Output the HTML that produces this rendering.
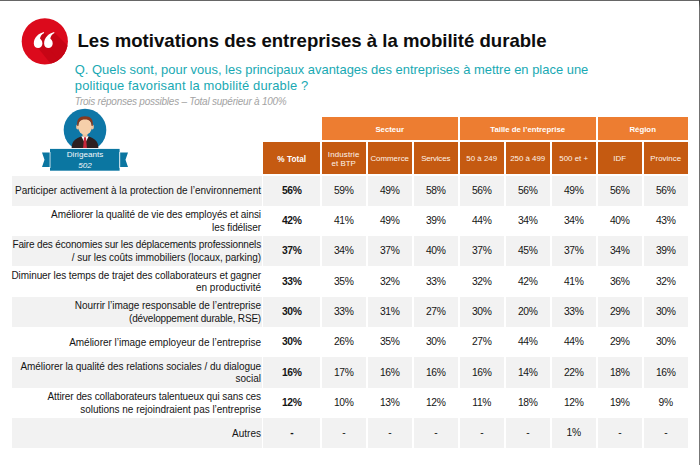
<!DOCTYPE html>
<html><head><meta charset="utf-8">
<style>
*{margin:0;padding:0;box-sizing:border-box}
html,body{width:700px;height:465px;overflow:hidden;background:#fff}
body{position:relative;font-family:"Liberation Sans",sans-serif;color:#151515}
.abs{position:absolute}
.h1,.h2,.lbl,.c{position:absolute;display:flex;align-items:center}
.h1{justify-content:center;color:#fff;font-weight:bold;font-size:7.8px;padding-top:2.1px}
.h2{justify-content:center;text-align:center;color:#fff3ea;font-size:7.9px;line-height:8.8px;padding-top:3.6px}
.h2.b{color:#fff;font-weight:bold;font-size:8.25px;padding-top:5.4px}
.lbl{justify-content:flex-end;text-align:right;font-size:10px;line-height:12.6px;padding-right:1.2px;padding-top:1.6px;white-space:nowrap}
.c{justify-content:center;font-size:10.3px;padding-bottom:0.6px;letter-spacing:-0.35px}
.c.b{font-weight:bold;font-size:10.3px}
.title{position:absolute;left:77.5px;top:30px;font-size:18.6px;font-weight:bold;color:#0d0d0d;white-space:nowrap;line-height:22px}
.q{position:absolute;left:74.8px;top:62px;font-size:12.95px;color:#19a9b3;line-height:16px;white-space:nowrap}
.sub{position:absolute;left:74.8px;top:96.4px;font-size:10px;letter-spacing:-0.24px;font-style:italic;color:#a3a3a3;white-space:nowrap;line-height:11.6px}
.rib{color:#f4f8fb;font-size:8.1px;line-height:10.6px;text-align:center}
.rib i{font-style:italic}
.topbar{position:absolute;left:0;top:0;width:700px;height:1.1px;background:#666}
.rightbar{position:absolute;left:698.8px;top:0;width:1.2px;height:465px;background:linear-gradient(#333,#6f6f6f 8px,#777)}
</style></head>
<body>
<div class="topbar"></div>
<div class="rightbar"></div>
<svg class="abs" style="left:21px;top:18px" width="48" height="48" viewBox="0 0 48 48">
<defs><clipPath id="cc"><circle cx="23.8" cy="23.3" r="23.1"/></clipPath></defs>
<circle cx="23.8" cy="23.3" r="23.1" fill="#dc0a1c"/>
<g clip-path="url(#cc)" fill="#c70515">
<polygon points="13,25 22.5,14 60,52 46,66"/>
<polygon points="23.4,25 32.9,14 70,51 56,65"/>
</g>
<g fill="#fff">
<path d="M22.80,14.00 C17.80,15.40 12.80,19.20 12.80,25.40 C12.80,28.50 14.90,29.90 17.10,29.90 C19.60,29.90 21.40,28.00 21.40,25.40 C21.40,22.60 19.80,21.40 19.00,20.60 C19.30,18.20 20.80,16.00 23.20,14.90 Z"/>
<path d="M33.10,14.00 C28.10,15.40 23.10,19.20 23.10,25.40 C23.10,28.50 25.20,29.90 27.40,29.90 C29.90,29.90 31.70,28.00 31.70,25.40 C31.70,22.60 30.10,21.40 29.30,20.60 C29.60,18.20 31.10,16.00 33.50,14.90 Z"/>
</g>
</svg>
<div class="title">Les motivations des entreprises à la mobilité durable</div>
<div class="q">Q. Quels sont, pour vous, les principaux avantages des entreprises à mettre en place une<br><span style="letter-spacing:0.15px">politique favorisant la mobilité durable ?</span></div>
<div class="sub">Trois réponses possibles – Total supérieur à 100%</div>
<svg class="abs" style="left:40px;top:106px" width="90" height="68" viewBox="0 0 90 68">
<defs><clipPath id="ac"><rect x="0" y="0" width="90" height="41.9"/></clipPath></defs>
<g clip-path="url(#ac)">
<circle cx="45" cy="24" r="21.3" fill="#0e77a7"/>
<path d="M31.6,42 L32.2,38 C33,34.6 36,32.2 41,30.4 L45,30 L49,30.4 C54,32.2 57,34.6 57.8,38 L58.4,42 Z" fill="#2e1f1f"/>
<path d="M41.3,30.2 L45,37.5 L48.7,30.2 Z" fill="#ffffff"/>
<path d="M44,31.3 L46,31.3 L46.9,42 L43.1,42 Z" fill="#c9283b"/>
<rect x="42.6" y="25" width="4.8" height="5.6" fill="#efc19a"/>
<ellipse cx="37.6" cy="21" rx="1.5" ry="2.4" fill="#f0c49e"/>
<ellipse cx="52.4" cy="21" rx="1.5" ry="2.4" fill="#f0c49e"/>
<ellipse cx="45" cy="20.6" rx="6.9" ry="8.2" fill="#f6cfaa"/>
<path d="M37.3,20 C36.4,13 39.6,10.3 45,10.3 C50.4,10.3 53.6,13 52.7,20 L51.6,20 C51.6,16 49.8,13.6 45,13.6 C40.2,13.6 38.4,16 38.4,20 Z" fill="#86391f"/>
</g>
<path d="M2,46.6 L10,46.6 L10,60.9 L2,60.9 L4.5,53.75 Z" fill="#0b76a1"/>
<path d="M88,46.6 L80,46.6 L80,60.9 L88,60.9 L85.5,53.75 Z" fill="#0b76a1"/>
<rect x="10" y="42.9" width="69.6" height="21.8" fill="#0b76a1"/>
<rect x="9.6" y="46" width="0.9" height="16" fill="#fff" opacity="0.8"/>
<rect x="79.3" y="46" width="0.9" height="16" fill="#fff" opacity="0.8"/>
</svg>
<div class="abs rib" style="left:50px;top:150px;width:70px;height:22px;">Dirigeants<br><i>502</i></div>
<div class="h1" style="left:321.70px;top:117.00px;width:136.00px;height:23.40px;background:#ed7d31;">Secteur</div>
<div class="h1" style="left:459.70px;top:117.00px;width:136.00px;height:23.40px;background:#ed7d31;">Taille de l’entreprise</div>
<div class="h1" style="left:597.70px;top:117.00px;width:90.00px;height:23.40px;background:#ed7d31;">Région</div>
<div class="h2 b" style="left:263.00px;top:142.40px;width:57.40px;height:31.40px;background:#c55a11;">% Total</div>
<div class="h2" style="left:321.70px;top:142.40px;width:44.00px;height:31.40px;background:#c55a11;"><span><span style="letter-spacing:0.17px">Industrie</span><br>et BTP</span></div>
<div class="h2" style="left:367.70px;top:142.40px;width:44.00px;height:31.40px;background:#c55a11;"><span>Commerce</span></div>
<div class="h2" style="left:413.70px;top:142.40px;width:44.00px;height:31.40px;background:#c55a11;"><span><span style="letter-spacing:-0.16px">Services</span></span></div>
<div class="h2" style="left:459.70px;top:142.40px;width:44.00px;height:31.40px;background:#c55a11;"><span>50 à 249</span></div>
<div class="h2" style="left:505.70px;top:142.40px;width:44.00px;height:31.40px;background:#c55a11;"><span>250 à 499</span></div>
<div class="h2" style="left:551.70px;top:142.40px;width:44.00px;height:31.40px;background:#c55a11;"><span>500 et +</span></div>
<div class="h2" style="left:597.70px;top:142.40px;width:44.00px;height:31.40px;background:#c55a11;"><span>IDF</span></div>
<div class="h2" style="left:643.70px;top:142.40px;width:44.00px;height:31.40px;background:#c55a11;"><span>Province</span></div>
<div class="lbl" style="left:11.50px;top:175.50px;width:250.70px;height:30.30px;background:#f2f2f2;"><div><span style="letter-spacing:-0.004px">Participer activement à la protection de l’environnement</span></div></div>
<div class="c b" style="left:263.00px;top:175.50px;width:57.40px;height:30.30px;background:#f2f2f2;">56%</div>
<div class="c" style="left:321.70px;top:175.50px;width:44.00px;height:30.30px;background:#f2f2f2;">59%</div>
<div class="c" style="left:367.70px;top:175.50px;width:44.00px;height:30.30px;background:#f2f2f2;">49%</div>
<div class="c" style="left:413.70px;top:175.50px;width:44.00px;height:30.30px;background:#f2f2f2;">58%</div>
<div class="c" style="left:459.70px;top:175.50px;width:44.00px;height:30.30px;background:#f2f2f2;">56%</div>
<div class="c" style="left:505.70px;top:175.50px;width:44.00px;height:30.30px;background:#f2f2f2;">56%</div>
<div class="c" style="left:551.70px;top:175.50px;width:44.00px;height:30.30px;background:#f2f2f2;">49%</div>
<div class="c" style="left:597.70px;top:175.50px;width:44.00px;height:30.30px;background:#f2f2f2;">56%</div>
<div class="c" style="left:643.70px;top:175.50px;width:44.00px;height:30.30px;background:#f2f2f2;">56%</div>
<div class="lbl" style="left:11.50px;top:205.80px;width:250.70px;height:30.30px;"><div><span style="letter-spacing:-0.083px">Améliorer la qualité de vie des employés et ainsi</span><br><span style="letter-spacing:-0.085px">les fidéliser</span></div></div>
<div class="c b" style="left:263.00px;top:205.80px;width:57.40px;height:30.30px;">42%</div>
<div class="c" style="left:321.70px;top:205.80px;width:44.00px;height:30.30px;">41%</div>
<div class="c" style="left:367.70px;top:205.80px;width:44.00px;height:30.30px;">49%</div>
<div class="c" style="left:413.70px;top:205.80px;width:44.00px;height:30.30px;">39%</div>
<div class="c" style="left:459.70px;top:205.80px;width:44.00px;height:30.30px;">44%</div>
<div class="c" style="left:505.70px;top:205.80px;width:44.00px;height:30.30px;">34%</div>
<div class="c" style="left:551.70px;top:205.80px;width:44.00px;height:30.30px;">34%</div>
<div class="c" style="left:597.70px;top:205.80px;width:44.00px;height:30.30px;">40%</div>
<div class="c" style="left:643.70px;top:205.80px;width:44.00px;height:30.30px;">43%</div>
<div class="lbl" style="left:11.50px;top:236.10px;width:250.70px;height:30.30px;background:#f2f2f2;"><div><span style="letter-spacing:-0.160px">Faire des économies sur les déplacements professionnels</span><br><span style="letter-spacing:-0.057px">/ sur les coûts immobiliers (locaux, parking)</span></div></div>
<div class="c b" style="left:263.00px;top:236.10px;width:57.40px;height:30.30px;background:#f2f2f2;">37%</div>
<div class="c" style="left:321.70px;top:236.10px;width:44.00px;height:30.30px;background:#f2f2f2;">34%</div>
<div class="c" style="left:367.70px;top:236.10px;width:44.00px;height:30.30px;background:#f2f2f2;">37%</div>
<div class="c" style="left:413.70px;top:236.10px;width:44.00px;height:30.30px;background:#f2f2f2;">40%</div>
<div class="c" style="left:459.70px;top:236.10px;width:44.00px;height:30.30px;background:#f2f2f2;">37%</div>
<div class="c" style="left:505.70px;top:236.10px;width:44.00px;height:30.30px;background:#f2f2f2;">45%</div>
<div class="c" style="left:551.70px;top:236.10px;width:44.00px;height:30.30px;background:#f2f2f2;">37%</div>
<div class="c" style="left:597.70px;top:236.10px;width:44.00px;height:30.30px;background:#f2f2f2;">34%</div>
<div class="c" style="left:643.70px;top:236.10px;width:44.00px;height:30.30px;background:#f2f2f2;">39%</div>
<div class="lbl" style="left:11.50px;top:266.40px;width:250.70px;height:30.30px;"><div><span style="letter-spacing:-0.079px">Diminuer les temps de trajet des collaborateurs et gagner</span><br><span style="letter-spacing:0.000px">en productivité</span></div></div>
<div class="c b" style="left:263.00px;top:266.40px;width:57.40px;height:30.30px;">33%</div>
<div class="c" style="left:321.70px;top:266.40px;width:44.00px;height:30.30px;">35%</div>
<div class="c" style="left:367.70px;top:266.40px;width:44.00px;height:30.30px;">32%</div>
<div class="c" style="left:413.70px;top:266.40px;width:44.00px;height:30.30px;">33%</div>
<div class="c" style="left:459.70px;top:266.40px;width:44.00px;height:30.30px;">32%</div>
<div class="c" style="left:505.70px;top:266.40px;width:44.00px;height:30.30px;">42%</div>
<div class="c" style="left:551.70px;top:266.40px;width:44.00px;height:30.30px;">41%</div>
<div class="c" style="left:597.70px;top:266.40px;width:44.00px;height:30.30px;">36%</div>
<div class="c" style="left:643.70px;top:266.40px;width:44.00px;height:30.30px;">32%</div>
<div class="lbl" style="left:11.50px;top:296.70px;width:250.70px;height:30.30px;background:#f2f2f2;"><div><span style="letter-spacing:-0.040px">Nourrir l’image responsable de l’entreprise</span><br><span style="letter-spacing:-0.193px">(développement durable, RSE)</span></div></div>
<div class="c b" style="left:263.00px;top:296.70px;width:57.40px;height:30.30px;background:#f2f2f2;">30%</div>
<div class="c" style="left:321.70px;top:296.70px;width:44.00px;height:30.30px;background:#f2f2f2;">33%</div>
<div class="c" style="left:367.70px;top:296.70px;width:44.00px;height:30.30px;background:#f2f2f2;">31%</div>
<div class="c" style="left:413.70px;top:296.70px;width:44.00px;height:30.30px;background:#f2f2f2;">27%</div>
<div class="c" style="left:459.70px;top:296.70px;width:44.00px;height:30.30px;background:#f2f2f2;">30%</div>
<div class="c" style="left:505.70px;top:296.70px;width:44.00px;height:30.30px;background:#f2f2f2;">20%</div>
<div class="c" style="left:551.70px;top:296.70px;width:44.00px;height:30.30px;background:#f2f2f2;">33%</div>
<div class="c" style="left:597.70px;top:296.70px;width:44.00px;height:30.30px;background:#f2f2f2;">29%</div>
<div class="c" style="left:643.70px;top:296.70px;width:44.00px;height:30.30px;background:#f2f2f2;">30%</div>
<div class="lbl" style="left:11.50px;top:327.00px;width:250.70px;height:30.30px;"><div><span style="letter-spacing:-0.010px">Améliorer l’image employeur de l’entreprise</span></div></div>
<div class="c b" style="left:263.00px;top:327.00px;width:57.40px;height:30.30px;">30%</div>
<div class="c" style="left:321.70px;top:327.00px;width:44.00px;height:30.30px;">26%</div>
<div class="c" style="left:367.70px;top:327.00px;width:44.00px;height:30.30px;">35%</div>
<div class="c" style="left:413.70px;top:327.00px;width:44.00px;height:30.30px;">30%</div>
<div class="c" style="left:459.70px;top:327.00px;width:44.00px;height:30.30px;">27%</div>
<div class="c" style="left:505.70px;top:327.00px;width:44.00px;height:30.30px;">44%</div>
<div class="c" style="left:551.70px;top:327.00px;width:44.00px;height:30.30px;">44%</div>
<div class="c" style="left:597.70px;top:327.00px;width:44.00px;height:30.30px;">29%</div>
<div class="c" style="left:643.70px;top:327.00px;width:44.00px;height:30.30px;">30%</div>
<div class="lbl" style="left:11.50px;top:357.30px;width:250.70px;height:30.30px;background:#f2f2f2;"><div><span style="letter-spacing:-0.061px">Améliorer la qualité des relations sociales / du dialogue</span><br><span style="letter-spacing:0.000px">social</span></div></div>
<div class="c b" style="left:263.00px;top:357.30px;width:57.40px;height:30.30px;background:#f2f2f2;">16%</div>
<div class="c" style="left:321.70px;top:357.30px;width:44.00px;height:30.30px;background:#f2f2f2;">17%</div>
<div class="c" style="left:367.70px;top:357.30px;width:44.00px;height:30.30px;background:#f2f2f2;">16%</div>
<div class="c" style="left:413.70px;top:357.30px;width:44.00px;height:30.30px;background:#f2f2f2;">16%</div>
<div class="c" style="left:459.70px;top:357.30px;width:44.00px;height:30.30px;background:#f2f2f2;">16%</div>
<div class="c" style="left:505.70px;top:357.30px;width:44.00px;height:30.30px;background:#f2f2f2;">14%</div>
<div class="c" style="left:551.70px;top:357.30px;width:44.00px;height:30.30px;background:#f2f2f2;">22%</div>
<div class="c" style="left:597.70px;top:357.30px;width:44.00px;height:30.30px;background:#f2f2f2;">18%</div>
<div class="c" style="left:643.70px;top:357.30px;width:44.00px;height:30.30px;background:#f2f2f2;">16%</div>
<div class="lbl" style="left:11.50px;top:387.60px;width:250.70px;height:30.30px;"><div><span style="letter-spacing:-0.099px">Attirer des collaborateurs talentueux qui sans ces</span><br><span style="letter-spacing:-0.026px">solutions ne rejoindraient pas l’entreprise</span></div></div>
<div class="c b" style="left:263.00px;top:387.60px;width:57.40px;height:30.30px;">12%</div>
<div class="c" style="left:321.70px;top:387.60px;width:44.00px;height:30.30px;">10%</div>
<div class="c" style="left:367.70px;top:387.60px;width:44.00px;height:30.30px;">13%</div>
<div class="c" style="left:413.70px;top:387.60px;width:44.00px;height:30.30px;">12%</div>
<div class="c" style="left:459.70px;top:387.60px;width:44.00px;height:30.30px;">11%</div>
<div class="c" style="left:505.70px;top:387.60px;width:44.00px;height:30.30px;">18%</div>
<div class="c" style="left:551.70px;top:387.60px;width:44.00px;height:30.30px;">12%</div>
<div class="c" style="left:597.70px;top:387.60px;width:44.00px;height:30.30px;">19%</div>
<div class="c" style="left:643.70px;top:387.60px;width:44.00px;height:30.30px;">9%</div>
<div class="lbl" style="left:11.50px;top:417.90px;width:250.70px;height:30.30px;background:#f2f2f2;"><div><span style="letter-spacing:0.000px">Autres</span></div></div>
<div class="c b" style="left:263.00px;top:417.90px;width:57.40px;height:30.30px;background:#f2f2f2;">-</div>
<div class="c" style="left:321.70px;top:417.90px;width:44.00px;height:30.30px;background:#f2f2f2;">-</div>
<div class="c" style="left:367.70px;top:417.90px;width:44.00px;height:30.30px;background:#f2f2f2;">-</div>
<div class="c" style="left:413.70px;top:417.90px;width:44.00px;height:30.30px;background:#f2f2f2;">-</div>
<div class="c" style="left:459.70px;top:417.90px;width:44.00px;height:30.30px;background:#f2f2f2;">-</div>
<div class="c" style="left:505.70px;top:417.90px;width:44.00px;height:30.30px;background:#f2f2f2;">-</div>
<div class="c" style="left:551.70px;top:417.90px;width:44.00px;height:30.30px;background:#f2f2f2;">1%</div>
<div class="c" style="left:597.70px;top:417.90px;width:44.00px;height:30.30px;background:#f2f2f2;">-</div>
<div class="c" style="left:643.70px;top:417.90px;width:44.00px;height:30.30px;background:#f2f2f2;">-</div>
</body></html>
